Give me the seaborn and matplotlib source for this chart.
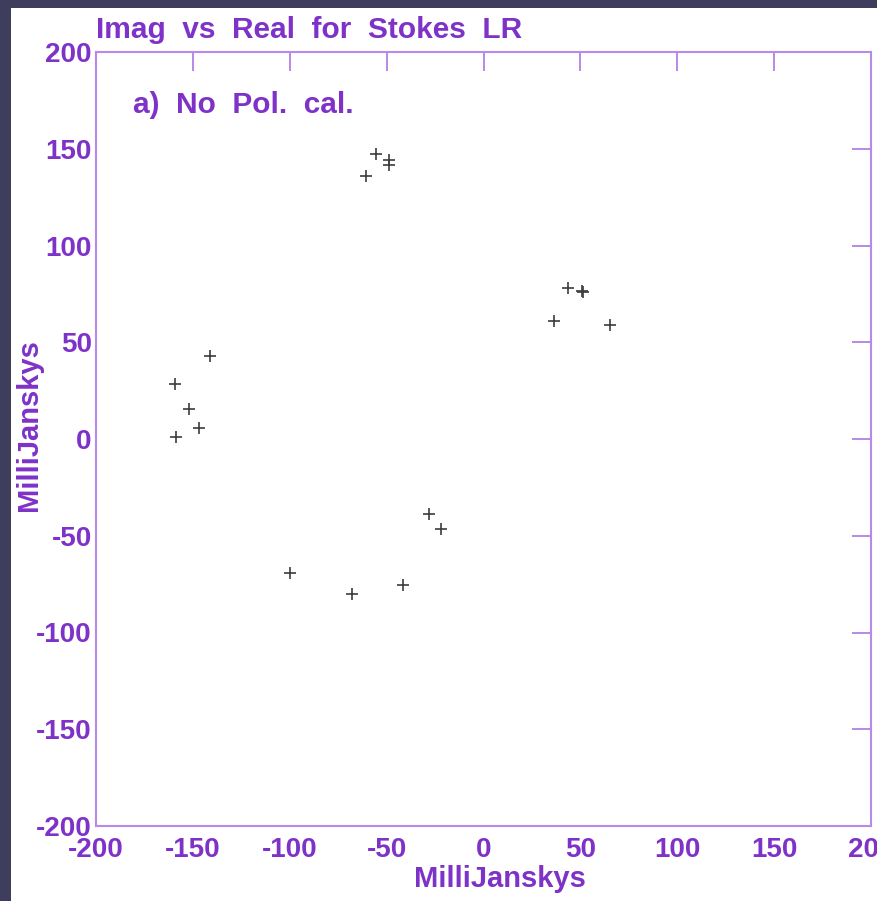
import matplotlib
matplotlib.use("Agg")
import matplotlib.pyplot as plt
from matplotlib.patches import Rectangle
import seaborn as sns
import pandas as pd

# Stokes LR visibilities (mJy)
real_mjy = [-60.6, -55.5, -49.0, -49.0, -141.2, -159.2, -152.0, -146.8, -158.7,
            36.4, 43.6, 50.8, 51.5, 65.3, -28.1, -21.9, -99.9, -67.9, -41.5]
imag_mjy = [135.9, 147.3, 144.0, 141.8, 42.9, 28.4, 15.5, 5.7, 1.0,
            61.0, 78.0, 76.5, 75.8, 58.9, -38.8, -46.5, -69.3, -80.1, -75.5]
tick_vals = [-200, -150, -100, -50, 0, 50, 100, 150, 200]

PURPLE = "#7e32c8"
AXIS = "#b68ae8"

sns.set_style("white")
plt.rcParams["font.family"] = ["Liberation Sans", "DejaVu Sans"]
plt.rcParams["font.weight"] = "bold"
plt.rcParams["axes.unicode_minus"] = False

df = pd.DataFrame({"real": real_mjy, "imag": imag_mjy})

fig = plt.figure(figsize=(8.77, 9.01), dpi=100, facecolor="#3e3e5c")
fig.patches.append(Rectangle((11 / 877, 0), 1, 1 - 8 / 901, transform=fig.transFigure,
                             facecolor="white", edgecolor="none", zorder=-10))
ax = fig.add_axes([96 / 877, 1 - 826 / 901, 775 / 877, 774 / 901])
ax.set_facecolor("white")

sns.scatterplot(data=df, x="real", y="imag", marker="+", s=80, color="#3c3c3c",
                linewidth=1.2, ax=ax, legend=False)

ax.set_xlim(-200, 200)
ax.set_ylim(-200, 200)
ax.set_xticks(tick_vals)
ax.set_yticks(tick_vals)
ax.tick_params(direction="in", top=True, right=True, length=13.5, width=1.4,
               color=AXIS, labelcolor=PURPLE, labelsize=20)
ax.tick_params(axis="x", pad=8)
ax.tick_params(axis="y", pad=3)
for lab in ax.get_xticklabels() + ax.get_yticklabels():
    lab.set_fontweight("bold")
for sp in ax.spines.values():
    sp.set_visible(True)
    sp.set_color(AXIS)
    sp.set_linewidth(1.5)

ax.set_xlabel("MilliJanskys", color=PURPLE, fontsize=21, fontweight="bold")
ax.set_ylabel("MilliJanskys", color=PURPLE, fontsize=21, fontweight="bold")
ax.xaxis.set_label_coords(0.521, -0.05)
ax.yaxis.set_label_coords(-0.069, 0.518)

fig.text(96 / 877, 1 - 38 / 901, "Imag  vs  Real  for  Stokes  LR", color=PURPLE,
         fontsize=21.5, fontweight="bold", va="baseline", ha="left")
ax.text(0.0477, 0.921, "a)  No  Pol.  cal.", transform=ax.transAxes, color=PURPLE,
        fontsize=21.5, fontweight="bold", va="baseline", ha="left")

fig.savefig("out.png", dpi=100, facecolor=fig.get_facecolor())
